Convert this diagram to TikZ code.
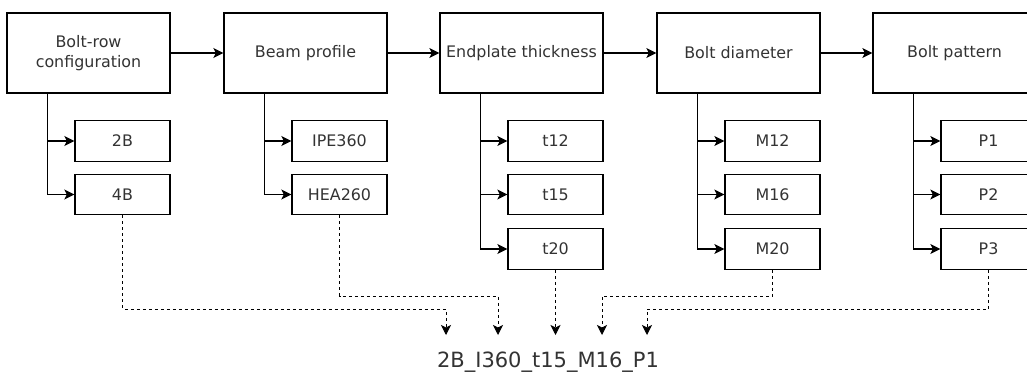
\documentclass[tikz,border=0pt]{standalone}
\usepackage{fontspec}
\setmainfont{DejaVu Sans}
\usetikzlibrary{calc,arrows.meta}

\begin{document}
\begin{tikzpicture}[x=1pt, y=-1pt, line width=1.3pt,
        head/.style={draw, minimum width=163pt, minimum height=80pt, inner sep=0pt, align=center,
            text=black!80, font=\fontsize{15.9}{19.5}\selectfont},
        item/.style={draw, minimum width=95pt, minimum height=40.5pt, inner sep=0pt,
            text=black!80, font=\fontsize{15.9}{19.5}\selectfont},
        tip/.style={-{Stealth[length=10pt, width=10pt, inset=2.5pt]}},
        pick/.style={tip, line width=1pt, dash pattern=on 3pt off 3pt}]
    \clip (0, 0) rectangle (1027, 376);

    % the five steps
    \node [head] (r) at (88.5, 53) {Bolt-row\\configuration};
    \node [head] (b) at (305.5, 53) {Beam profile};
    \node [head] (t) at (521.5, 53) {Endplate thickness};
    \node [head] (m) at (738.5, 53) {Bolt diameter};
    \node [head] (p) at (954.5, 53) {Bolt pattern};
    \draw [tip] (r) -- (b);
    \draw [tip] (b) -- (t);
    \draw [tip] (t) -- (m);
    \draw [tip] (m) -- (p);

    % options of every step
    \node [item] (r1) at (122.5, 141) {2B};
    \node [item] (r2) at (122.5, 194.5) {4B};
    \node [item] (b1) at (339.5, 141) {IPE360};
    \node [item] (b2) at (339.5, 194.5) {HEA260};
    \node [item] (t1) at (555.5, 141) {t12};
    \node [item] (t2) at (555.5, 194.5) {t15};
    \node [item] (t3) at (555.5, 249) {t20};
    \node [item] (m1) at (772.5, 141) {M12};
    \node [item] (m2) at (772.5, 194.5) {M16};
    \node [item] (m3) at (772.5, 249) {M20};
    \node [item] (p1) at (988.5, 141) {P1};
    \node [item] (p2) at (988.5, 194.5) {P2};
    \node [item] (p3) at (988.5, 249) {P3};

    \coordinate (rt) at ($(r.south west) + (41, 0)$);
    \coordinate (bt) at ($(b.south west) + (41, 0)$);
    \coordinate (tt) at ($(t.south west) + (41, 0)$);
    \coordinate (mt) at ($(m.south west) + (41, 0)$);
    \coordinate (pt) at ($(p.south west) + (41, 0)$);
    \draw [tip] (rt) |- (r1);
    \draw [tip] (rt) |- (r2);
    \draw [tip] (bt) |- (b1);
    \draw [tip] (bt) |- (b2);
    \draw [tip] (tt) |- (t1);
    \draw [tip] (tt) |- (t2);
    \draw [tip] (tt) |- (t3);
    \draw [tip] (mt) |- (m1);
    \draw [tip] (mt) |- (m2);
    \draw [tip] (mt) |- (m3);
    \draw [tip] (pt) |- (p1);
    \draw [tip] (pt) |- (p2);
    \draw [tip] (pt) |- (p3);

    % one chosen combination
    \node [text=black!80, font=\fontsize{21}{25}\selectfont] (n) at (548, 362) {2B\_I360\_t15\_M16\_P1};
    \coordinate (e1) at (446, 335);
    \coordinate (e2) at (498, 335);
    \coordinate (e3) at (555.5, 335);
    \coordinate (e4) at (602, 335);
    \coordinate (e5) at (647, 335);
    \draw [pick] (r2.south) |- ($(e1) + (0, -26)$) -- (e1);
    \draw [pick] (b2.south) |- ($(e2) + (0, -39)$) -- (e2);
    \draw [pick] (t3.south) -- (e3);
    \draw [pick] (m3.south) |- ($(e4) + (0, -39)$) -- (e4);
    \draw [pick] (p3.south) |- ($(e5) + (0, -26)$) -- (e5);
\end{tikzpicture}
\end{document}
